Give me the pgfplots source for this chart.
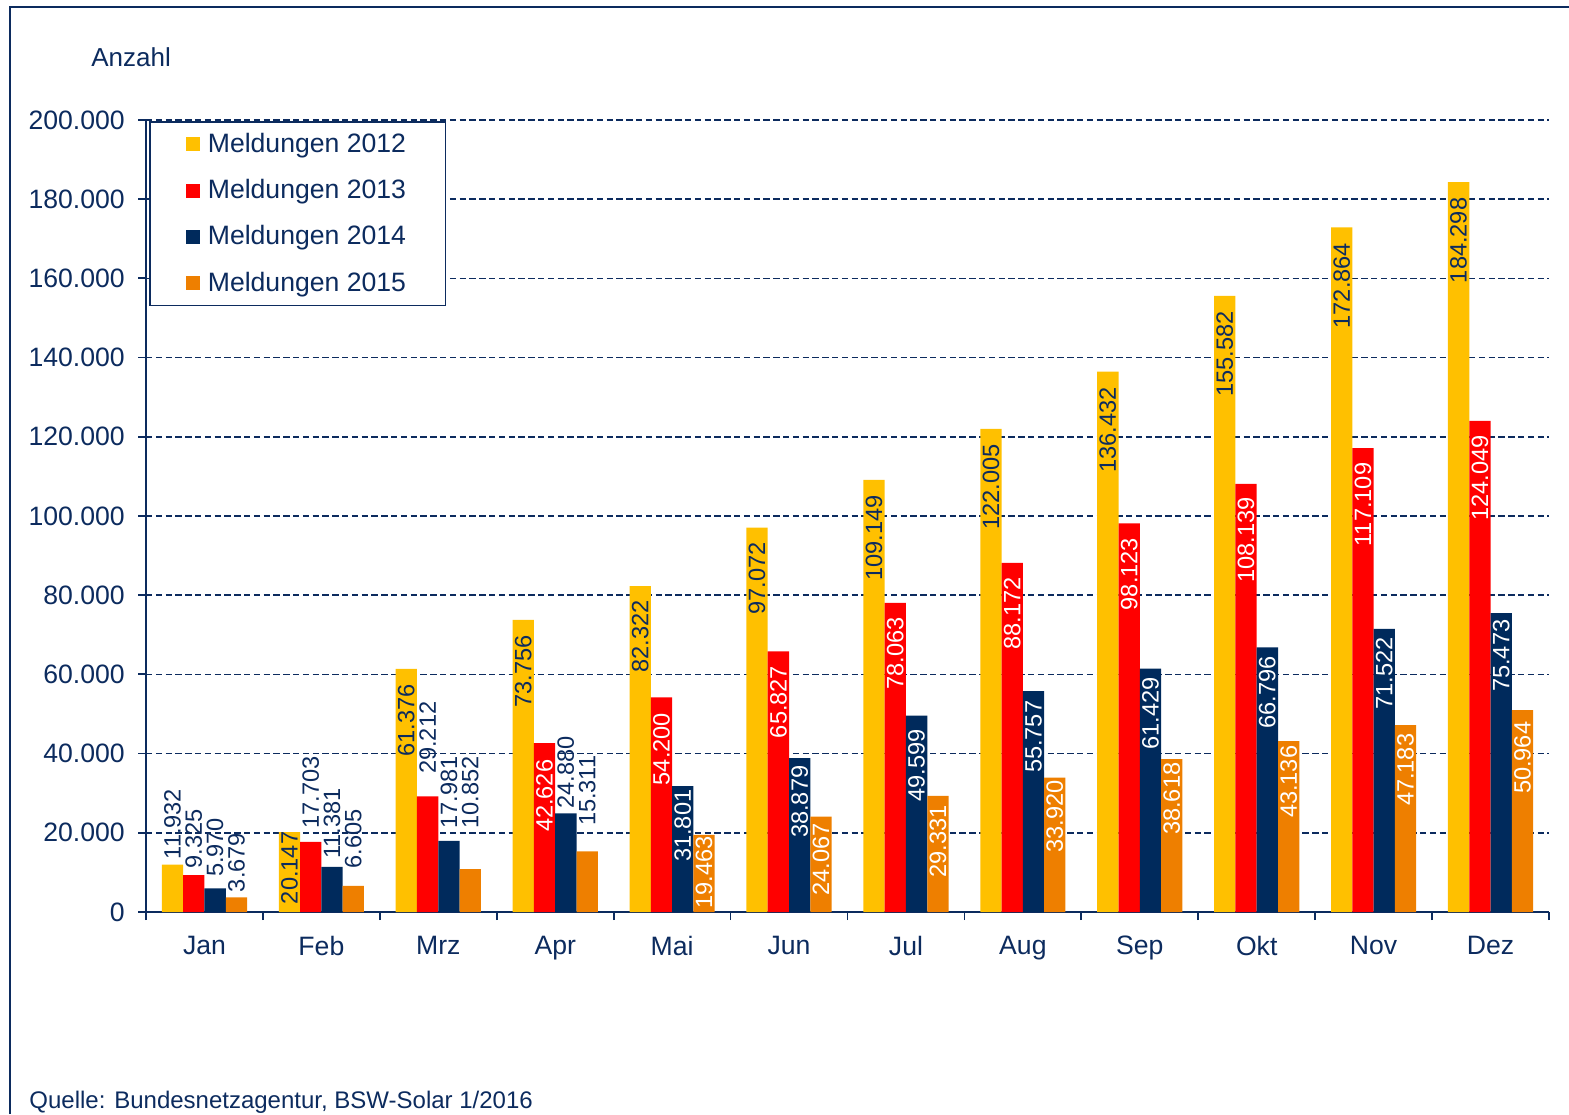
\documentclass[border=0pt]{standalone}
\usepackage{pgfplots}
\usepackage{pgfplotstable}
\usepackage{graphicx}
\pgfplotsset{compat=1.18}
\usepackage{fontspec}
\setmainfont{Liberation Sans}
\definecolor{txtnavy}{HTML}{0C2B5E}
\definecolor{c12}{HTML}{FFC000}
\definecolor{c13}{HTML}{FF0000}
\definecolor{c14}{HTML}{002A5C}
\definecolor{c15}{HTML}{EE7F00}

% lab column: w/e (outside/inside) / gap in pt / text colour
\pgfplotstableread{
x y lab
0 11932 w/2/txtnavy
1 20147 e/0.5/txtnavy
2 61376 e/8.5/txtnavy
3 73756 e/8.5/txtnavy
4 82322 e/8/txtnavy
5 97072 e/8/txtnavy
6 109149 e/8.5/txtnavy
7 122005 e/8.5/txtnavy
8 136432 e/8.5/txtnavy
9 155582 e/8.5/txtnavy
10 172864 e/8.5/txtnavy
11 184298 e/8.5/txtnavy
}\dataA
\pgfplotstableread{
x y lab
0 9325 w/2.5/txtnavy
1 17703 w/6/txtnavy
2 29212 w/10.5/txtnavy
3 42626 e/9/white
4 54200 e/8.5/white
5 65827 e/8/white
6 78063 e/8/white
7 88172 e/8/white
8 98123 e/8/white
9 108139 e/7.5/white
10 117109 e/8/white
11 124049 e/8/white
}\dataB
\pgfplotstableread{
x y lab
0 5970 w/5/txtnavy
1 11381 w/3.5/txtnavy
2 17981 w/5.5/txtnavy
3 24880 w/1.8/txtnavy
4 31801 e/2.5/white
5 38879 e/4.5/white
6 49599 e/7.5/white
7 55757 e/5.5/white
8 61429 e/5/white
9 66796 e/5/white
10 71522 e/5/white
11 75473 e/4/white
}\dataC
\pgfplotstableread{
x y lab
0 3679 w/2/txtnavy
1 6605 w/8/txtnavy
2 10852 w/19.5/txtnavy
3 15311 w/12/txtnavy
4 19463 e/1.5/white
5 24067 e/4/white
6 29331 e/5.5/white
7 33920 e/2/white
8 38618 e/2.5/white
9 43136 e/3/white
10 47183 e/5/white
11 50964 e/6.5/white
}\dataD

\newsavebox\labbox
\newdimen\labdim
\newcommand\labnode[1]{\edef\labtmp{#1}\expandafter\labparse\labtmp\relax}
\def\labparse#1/#2/#3\relax{%
  \sbox\labbox{\fontsize{11.8}{14}\selectfont\color{#3}\pgfmathprintnumber{\ry}}%
  \if#1w\labdim=#2pt\relax
  \else\labdim=-#2pt\relax\advance\labdim by -\wd\labbox\fi
  \raisebox{\labdim}[0pt][0pt]{\rotatebox{90}{\usebox\labbox}}}

\pgfplotsset{
  lab/.style={
    point meta=explicit symbolic,
    visualization depends on={rawy \as \ry},
    nodes near coords={\labnode{\pgfplotspointmeta}},
    every node near coord/.append style={anchor=south, inner sep=0pt},
  },
}

\begin{document}
\begin{tikzpicture}
\path[use as bounding box] (0pt,0pt) rectangle (784.5pt,557pt);
\draw[txtnavy, line width=1pt] (5pt,0pt) -- (5pt,553.5pt) -- (784.5pt,553.5pt);
\node[anchor=base west, font=\fontsize{13}{15}\selectfont, text=txtnavy, inner sep=0pt] at (45.5pt,523.5pt) {Anzahl};
\node[anchor=base west, font=\fontsize{12}{14}\selectfont, text=txtnavy, inner sep=0pt] at (14.5pt,3pt) {Quelle: Bundesnetzagentur, BSW-Solar 1/2016};
\begin{axis}[
  at={(73pt,101pt)}, anchor=south west,
  scale only axis, width=701.5pt, height=396pt,
  ybar=0pt, bar width=10.65pt,
  xmin=-0.5, xmax=11.5, ymin=0, ymax=200000,
  clip=false,
  axis lines*=left,
  axis line style={txtnavy, line width=0.9pt},
  tick align=outside,
  major tick length=4pt, minor tick length=4pt,
  tick style={txtnavy, line width=0.9pt},
  major x tick style={draw=none},
  xtick={0,...,11},
  xticklabels={Jan,Feb,Mrz,Apr,Mai,Jun,Jul,Aug,Sep,Okt,Nov,Dez},
  minor xtick={-0.5,0.5,...,11.5},
  ytick={0,20000,...,200000},
  scaled y ticks=false,
  /pgf/number format/fixed,
  /pgf/number format/1000 sep={.},
  /pgf/number format/assume math mode=true,
  ticklabel style={font=\fontsize{13.3}{16}\selectfont, text=txtnavy},
  yticklabel style={xshift=-3.1pt},
  xticklabel style={yshift=-4.6pt},
  ymajorgrids,
  major grid style={txtnavy, line width=0.8pt, dash pattern=on 3.2pt off 1.7pt},
  legend style={at={(axis description cs:0.0021,0.9987)}, anchor=north west,
    draw=txtnavy, line width=0.9pt, fill=white,
    font=\fontsize{13.3}{16}\selectfont, text=txtnavy,
    inner xsep=18.2pt, inner ysep=1.2pt, row sep=3.2pt,
    nodes={inner xsep=1.5pt, inner ysep=4.4pt},
    /tikz/every odd column/.append style={column sep=2.3pt}},
  legend cell align=left,
  legend image code/.code={\path[#1,draw=none] (0pt,-3.5pt) rectangle (7pt,3.5pt);},
]
\addplot[fill=c12, draw=none, lab] table[x=x,y=y,meta=lab]{\dataA};
\addlegendentry{Meldungen 2012}
\addplot[fill=c13, draw=none, lab] table[x=x,y=y,meta=lab]{\dataB};
\addlegendentry{Meldungen 2013}
\addplot[fill=c14, draw=none, lab] table[x=x,y=y,meta=lab]{\dataC};
\addlegendentry{Meldungen 2014}
\addplot[fill=c15, draw=none, lab] table[x=x,y=y,meta=lab]{\dataD};
\addlegendentry{Meldungen 2015}
\end{axis}
\end{tikzpicture}
\end{document}
